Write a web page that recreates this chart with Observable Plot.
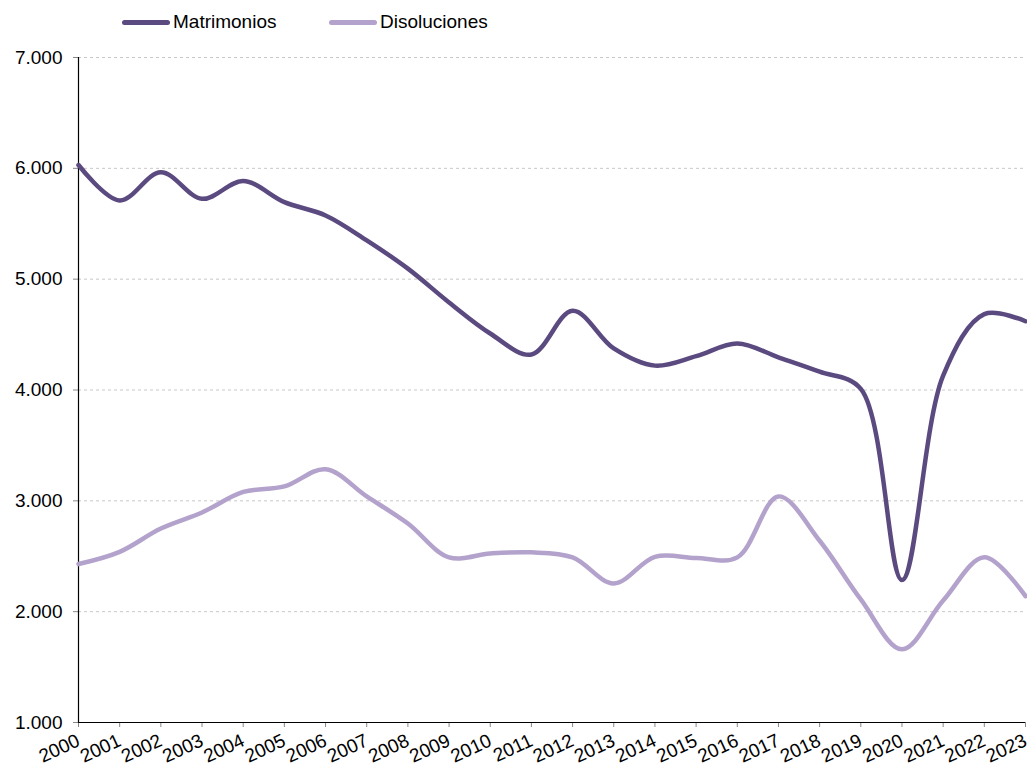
<!DOCTYPE html>
<html>
<head>
<meta charset="utf-8">
<script src="https://cdn.jsdelivr.net/npm/d3@7"></script>
<script src="https://cdn.jsdelivr.net/npm/@observablehq/plot@0.6"></script>
<style>
  body { margin: 0; background: #fff; font-family: "Liberation Sans", Arial, sans-serif; }
  #legend { height: 45px; position: relative; font-size: 19px; color: #000; }
  .item { position: absolute; top: 11px; display: flex; align-items: center; }
  .sw { width: 48px; height: 5px; border-radius: 3px; margin-right: 3px; }
  #chart svg g[aria-label="y-axis tick label"] text { font-size: 19px; }
  #chart svg g[aria-label="x-axis tick label"] text { font-size: 19px; }
</style>
</head>
<body>
<div id="legend">
  <div class="item" style="left:122px"><div class="sw" style="background:#5b4a80"></div><span>Matrimonios</span></div>
  <div class="item" style="left:329px"><div class="sw" style="background:#b3a2cc"></div><span>Disoluciones</span></div>
</div>
<div id="chart"></div>
<script>
const years = [2000,2001,2002,2003,2004,2005,2006,2007,2008,2009,2010,2011,2012,2013,2014,2015,2016,2017,2018,2019,2020,2021,2022,2023];
const matrimonios = [6030,5710,5965,5725,5885,5695,5575,5350,5095,4790,4510,4320,4715,4375,4220,4305,4420,4295,4165,4010,2285,4130,4685,4620];
const disoluciones = [2430,2540,2750,2895,3080,3130,3285,3040,2795,2490,2525,2535,2490,2255,2495,2485,2490,3040,2640,2110,1660,2100,2490,2140];
const yTicks = [1000,2000,3000,4000,5000,6000,7000];

const rows = [];
years.forEach((y, i) => {
  rows.push({year: y, value: matrimonios[i], serie: "Matrimonios"});
  rows.push({year: y, value: disoluciones[i], serie: "Disoluciones"});
});

const fmt = d => d3.format(",")(d).replace(/,/g, ".");

const chart = Plot.plot({
  width: 1027,
  height: 724,
  marginLeft: 78,
  marginRight: 2,
  marginTop: 12,
  marginBottom: 47,
  style: {fontFamily: "'Liberation Sans', Arial, sans-serif", color: "#000", background: "#fff", overflow: "visible"},
  x: {domain: [2000, 2023], label: null},
  y: {domain: [1000, 7000], label: null},
  color: {domain: ["Matrimonios", "Disoluciones"], range: ["#5b4a80", "#b3a2cc"]},
  marks: [
    Plot.ruleY(yTicks.filter(d => d > 1000), {stroke: "#c8c8c8", strokeDasharray: "3,3", strokeWidth: 1}),
    Plot.axisY({ticks: yTicks, tickFormat: fmt, tickSize: 5, tickPadding: 11, stroke: "#888", fontSize: 19}),
    Plot.axisX({ticks: years, tickFormat: d => String(d), tickRotate: -25, tickSize: 5, tickPadding: 12, stroke: "#888", fontSize: 19}),
    Plot.ruleX([2000], {stroke: "#000", strokeWidth: 1.2}),
    Plot.ruleY([1000], {stroke: "#000", strokeWidth: 1.2}),
    Plot.line(rows, {x: "year", y: "value", z: "serie", stroke: "serie", strokeWidth: 4.5, curve: "catmull-rom"})
  ]
});
document.getElementById("chart").appendChild(chart);
</script>
</body>
</html>
